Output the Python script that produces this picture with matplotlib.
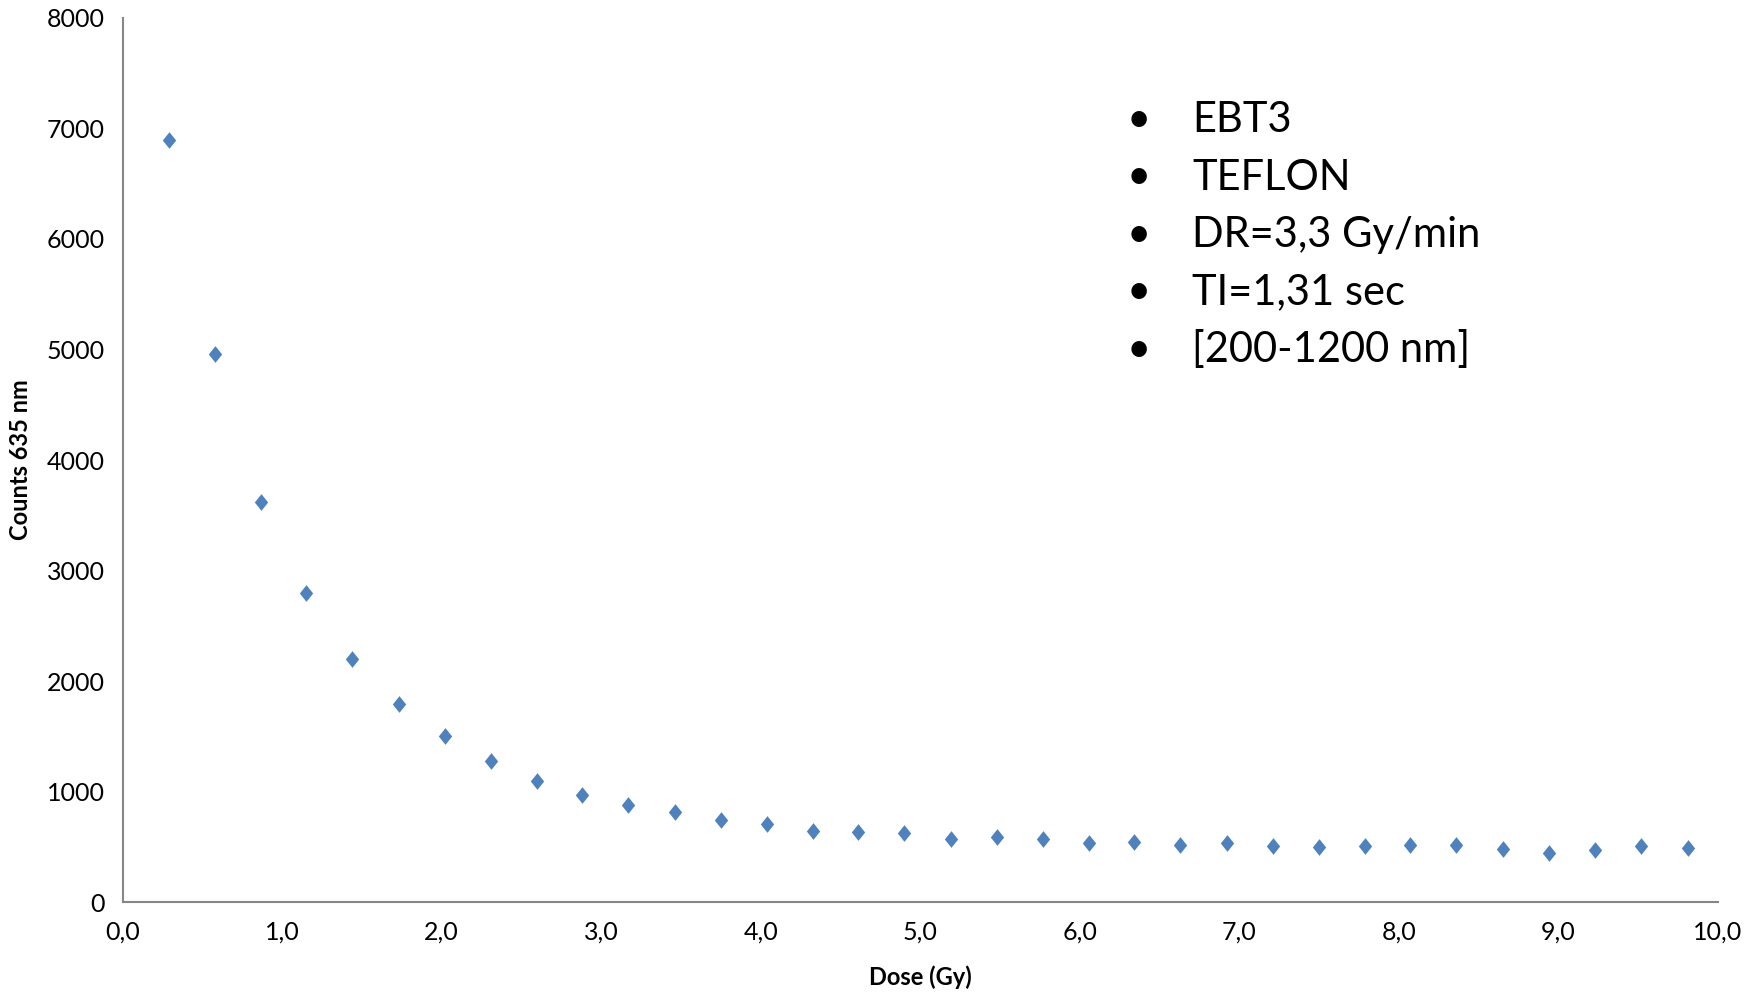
import numpy as np
import matplotlib
matplotlib.use("Agg")
import matplotlib.pyplot as plt

plt.rcParams['font.family'] = ['Lato', 'DejaVu Sans']

dose = [0.29, 0.58, 0.87, 1.15, 1.44, 1.73, 2.02, 2.31, 2.60, 2.88,
        3.17, 3.46, 3.75, 4.04, 4.33, 4.61, 4.90, 5.19, 5.48, 5.77,
        6.06, 6.34, 6.63, 6.92, 7.21, 7.50, 7.79, 8.07, 8.36, 8.65,
        8.94, 9.23, 9.52, 9.81]
counts = [6900, 4957, 3623, 2799, 2198, 1791, 1506, 1272, 1099, 967,
          875, 814, 743, 702, 641, 634, 621, 574, 585, 574,
          531, 543, 513, 531, 507, 498, 509, 515, 513, 480,
          447, 468, 509, 486]

notes = ["EBT3", "TEFLON", "DR=3,3 Gy/min", "TI=1,31 sec", "[200-1200 nm]"]

fig = plt.figure(figsize=(17.63, 9.93), dpi=100)
ax = fig.add_axes([0.0695, 0.0916, 0.905, 0.8903])

# excel-style diamond, a bit taller than wide
diamond = [(0, 1), (0.8, 0), (0, -1), (-0.8, 0), (0, 1)]
ax.plot(dose, counts, linestyle='none', marker=diamond, markersize=12,
        color='#4F81BD', markeredgewidth=0)

ax.set_xlim(0, 10)
ax.set_ylim(0, 8000)
ax.set_xticks(np.arange(0, 11, 1))
ax.set_xticklabels([f"{v},0" for v in range(11)])
ax.set_yticks(np.arange(0, 8001, 1000))

for s in ['top', 'right']:
    ax.spines[s].set_visible(False)
for s in ['left', 'bottom']:
    ax.spines[s].set_color('#868686')
    ax.spines[s].set_linewidth(1.5)
ax.tick_params(length=0, labelsize=18, pad=13)
ax.tick_params(axis='y', pad=13)

ax.set_xlabel("Dose (Gy)", fontsize=17, fontweight='bold', va='center')
ax.set_ylabel("Counts 635 nm", fontsize=17, fontweight='bold', va='center')
ax.xaxis.set_label_coords(0.5, -0.085)
ax.yaxis.set_label_coords(-0.064, 0.5)

for i, t in enumerate(notes):
    y = 1 - (120 + 57.5 * i) / 993
    fig.text(1139 / 1763, y, "\u2022", fontsize=30, ha='center', va='center')
    fig.text(1192 / 1763, y, t, fontsize=30, ha='left', va='center')

fig.savefig("out.png", dpi=100)
